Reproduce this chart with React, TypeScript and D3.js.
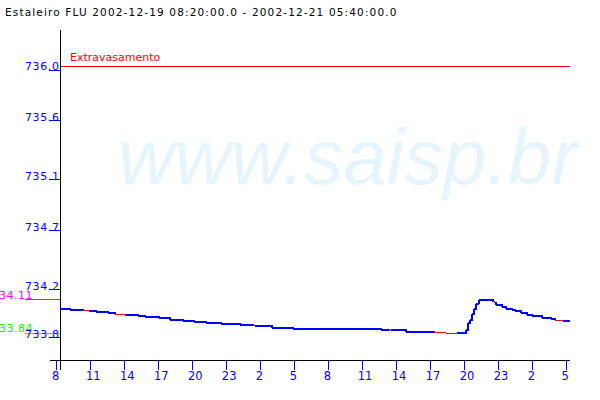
import React from "react";
import * as d3 from "d3";

const TITLE = "Estaleiro FLU 2002-12-19 08:20:00.0 - 2002-12-21 05:40:00.0";
const WATERMARK = "www.saisp.br";

// readings: time, level (m), flag ("b" = measured, "r" = estimated)
const times = [
  "2002-12-19 08:20", "2002-12-19 09:10", "2002-12-19 10:20", "2002-12-19 10:50",
  "2002-12-19 11:30", "2002-12-19 12:30", "2002-12-19 13:10", "2002-12-19 14:00",
  "2002-12-19 15:10", "2002-12-19 15:50", "2002-12-19 17:00", "2002-12-19 18:00",
  "2002-12-19 19:10", "2002-12-19 20:10", "2002-12-19 21:10", "2002-12-19 22:30",
  "2002-12-20 00:10", "2002-12-20 01:20", "2002-12-20 01:30", "2002-12-20 03:00",
  "2002-12-20 04:50", "2002-12-20 12:40", "2002-12-20 13:20", "2002-12-20 13:30",
  "2002-12-20 14:50", "2002-12-20 17:20", "2002-12-20 18:20", "2002-12-20 19:20",
  "2002-12-20 20:10", "2002-12-20 20:20", "2002-12-20 20:30", "2002-12-20 20:40",
  "2002-12-20 20:50", "2002-12-20 21:00", "2002-12-20 21:10", "2002-12-20 21:20",
  "2002-12-20 22:30", "2002-12-20 22:40", "2002-12-20 22:50", "2002-12-20 23:20",
  "2002-12-20 23:40", "2002-12-21 00:10", "2002-12-21 00:30", "2002-12-21 01:00",
  "2002-12-21 01:30", "2002-12-21 02:00", "2002-12-21 02:50", "2002-12-21 03:40",
  "2002-12-21 04:00", "2002-12-21 04:40", "2002-12-21 05:20",
];
const levels = [
  734.035, 734.027, 734.019, 734.019,
  734.010, 734.002, 733.994, 733.989,
  733.981, 733.972, 733.962, 733.946,
  733.938, 733.930, 733.921, 733.913,
  733.905, 733.900, 733.895, 733.883,
  733.873, 733.867, 733.862, 733.867,
  733.851, 733.846, 733.840, 733.843,
  733.865, 733.920, 733.946, 733.992,
  734.032, 734.075, 734.086, 734.110,
  734.094, 734.081, 734.070, 734.053,
  734.037, 734.027, 734.019, 734.005,
  733.989, 733.976, 733.964, 733.951,
  733.943, 733.938, 733.938,
];
const flags = [
  "b", "b", "r", "b",
  "b", "b", "r", "b",
  "b", "b", "b", "b",
  "b", "b", "b", "b",
  "b", "r", "b", "b",
  "b", "b", "r", "b",
  "b", "r", "r", "b",
  "b", "b", "b", "b",
  "b", "b", "b", "b",
  "r", "b", "b", "b",
  "b", "b", "b", "b",
  "b", "b", "b", "b",
  "r", "b", "b",
];

const yTickValues = [735.97, 735.56, 735.08, 734.67, 734.19, 733.8];
const xTickFirst = "2002-12-19 08:00";
const xTickLast = "2002-12-21 05:00";
const xTickStepHours = 3;

const overflowLevel = 736.0;
const overflowLabel = "Extravasamento";
const maxLevel = 734.11;
const minLevel = 733.84;

const FONT = "DejaVu Sans";
const BLUE = "#0000ff";
const RED = "#ff0000";

export default function App() {
  const parse = d3.utcParse("%Y-%m-%d %H:%M");
  const t0 = parse(xTickFirst)!;
  const t1 = parse(xTickLast)!;
  const x = d3.scaleUtc().domain([t0, t1]).range([56.7, 566.3]);
  const y = d3.scaleLinear().domain([733.62, 736.0]).range([360.2, 66.3]);

  const pts = times.map((t, i) => ({ t: parse(t)!, v: levels[i], f: flags[i] }));
  const step = d3
    .line<{ t: Date; v: number }>()
    .x((d) => x(d.t))
    .y((d) => y(d.v))
    .curve(d3.curveStepAfter);

  const segs = pts.slice(0, -1).map((p, i) => ({ d: step([p, pts[i + 1]])!, f: p.f }));

  const xTicks = d3.utcHour.range(t0, new Date(+t1 + 1), xTickStepHours);

  const axisX = 60;
  const axisY = 360;

  return (
    <svg
      width={600}
      height={400}
      style={{ position: "absolute", left: 0, top: 0, background: "#fff" }}
      fontFamily={FONT}
    >
      <rect x={0} y={0} width={600} height={400} fill="#fff" />
      <text
        x={118}
        y={184}
        fontFamily="Liberation Sans"
        fontStyle="italic"
        fontSize={78}
        fill="#e6f5fc"
      >
        {WATERMARK}
      </text>

      <text x={5} y={16} fontSize={10.5} letterSpacing={1.15} fill="#000">
        {TITLE}
      </text>

      {/* overflow line */}
      <line
        x1={axisX}
        x2={570}
        y1={y(overflowLevel)}
        y2={y(overflowLevel)}
        stroke={RED}
        strokeWidth={1}
        shapeRendering="crispEdges"
      />
      <text x={70} y={y(overflowLevel) - 5} fontSize={11} fill={RED}>
        {overflowLabel}
      </text>

      {/* max / min markers */}
      <line x1={25} x2={axisX} y1={y(maxLevel)} y2={y(maxLevel)} stroke="#ff00ff" shapeRendering="crispEdges" />
      <text x={33} y={y(maxLevel) - 1} fontSize={11} textAnchor="end" fill="#ff00ff" letterSpacing={0.5}>
        {maxLevel.toFixed(2)}
      </text>
      <line x1={25} x2={axisX} y1={y(minLevel)} y2={y(minLevel)} stroke="#00ff00" shapeRendering="crispEdges" />
      <text x={33} y={y(minLevel) - 1} fontSize={11} textAnchor="end" fill="#00ff00" letterSpacing={0.5}>
        {minLevel.toFixed(2)}
      </text>

      {/* axes */}
      <line x1={axisX} x2={axisX} y1={30} y2={370} stroke="#000" shapeRendering="crispEdges" />
      <line x1={50} x2={570} y1={axisY} y2={axisY} stroke="#000" shapeRendering="crispEdges" />

      {yTickValues.map((v) => (
        <g key={v}>
          <line x1={49} x2={axisX} y1={y(v)} y2={y(v)} stroke={BLUE} shapeRendering="crispEdges" />
          <text x={59.5} y={y(v)} fontSize={11} textAnchor="end" fill={BLUE} letterSpacing={0.6}>
            {v.toFixed(1)}
          </text>
        </g>
      ))}

      {xTicks.map((t) => (
        <g key={+t}>
          <line x1={x(t)} x2={x(t)} y1={axisY} y2={370} stroke={BLUE} shapeRendering="crispEdges" />
          <text x={x(t) - 4.7} y={379.5} fontSize={11.5} fill={BLUE}>
            {t.getUTCHours()}
          </text>
        </g>
      ))}

      {/* series */}
      {segs
        .filter((s) => s.f === "b")
        .map((s, i) => (
          <path key={"b" + i} d={s.d} fill="none" stroke={BLUE} strokeWidth={2} shapeRendering="crispEdges" />
        ))}
      {segs
        .filter((s) => s.f === "r")
        .map((s, i) => (
          <path key={"r" + i} d={s.d} fill="none" stroke={RED} strokeWidth={1} shapeRendering="crispEdges" />
        ))}
    </svg>
  );
}
